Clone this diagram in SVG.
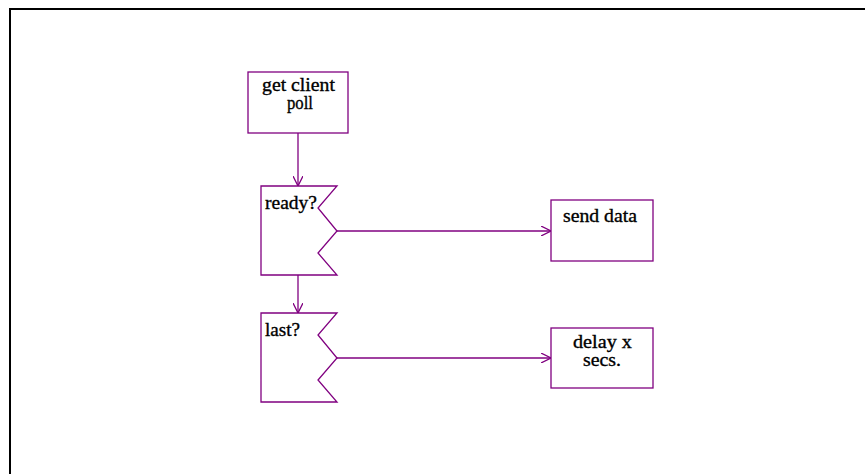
<svg xmlns="http://www.w3.org/2000/svg" width="865" height="474" viewBox="0 0 865 474">
  <style>
    .shape { fill: #ffffff; stroke: #800080; stroke-width: 1.3; }
    .link { fill: none; stroke: #800080; stroke-width: 1.3; }
    .label { font-family: "Liberation Serif", "Times New Roman", serif; font-size: 19px; fill: #000000; stroke: #000000; stroke-width: 0.35; }
  </style>
  <defs>
    <marker id="arrow" viewBox="0 0 10 10" refX="10" refY="5" markerWidth="10" markerHeight="10" markerUnits="userSpaceOnUse" orient="auto">
      <path d="M0,0 L10,5 L0,10" fill="none" stroke="#800080" stroke-width="1.3"/>
    </marker>
  </defs>

  <rect x="0" y="0" width="865" height="474" fill="#ffffff"/>
  <!-- page frame: top and left edges -->
  <path d="M10,474 V9 H865" fill="none" stroke="#000000" stroke-width="2"/>

  <g id="connectors">
    <line class="link" x1="298" y1="133" x2="298" y2="186" marker-end="url(#arrow)"/>
    <line class="link" x1="298" y1="275" x2="298" y2="313" marker-end="url(#arrow)"/>
    <line class="link" x1="337" y1="231" x2="551" y2="231" marker-end="url(#arrow)"/>
    <line class="link" x1="337" y1="358" x2="551" y2="358" marker-end="url(#arrow)"/>
  </g>

  <g id="get-client-poll">
    <rect class="shape" x="248" y="72" width="100" height="61"/>
    <text class="label" x="262" y="91" textLength="73" lengthAdjust="spacingAndGlyphs">get client</text>
    <text class="label" x="287" y="109" textLength="26" lengthAdjust="spacingAndGlyphs">poll</text>
  </g>

  <g id="ready">
    <path class="shape" d="M261,186 H337 L318,208 L337,231 L318,253 L337,275 H261 Z"/>
    <text class="label" x="265" y="209" textLength="52" lengthAdjust="spacingAndGlyphs">ready?</text>
  </g>

  <g id="last">
    <path class="shape" d="M261,313 H337 L318,335 L337,358 L318,380 L337,402 H261 Z"/>
    <text class="label" x="265" y="336" textLength="35" lengthAdjust="spacingAndGlyphs">last?</text>
  </g>

  <g id="send-data">
    <rect class="shape" x="551" y="200" width="102" height="61"/>
    <text class="label" x="563" y="222" textLength="74" lengthAdjust="spacingAndGlyphs">send data</text>
  </g>

  <g id="delay">
    <rect class="shape" x="551" y="328" width="102" height="60"/>
    <text class="label" x="573" y="348" textLength="59" lengthAdjust="spacingAndGlyphs">delay x</text>
    <text class="label" x="583" y="366" textLength="38" lengthAdjust="spacingAndGlyphs">secs.</text>
  </g>
</svg>
